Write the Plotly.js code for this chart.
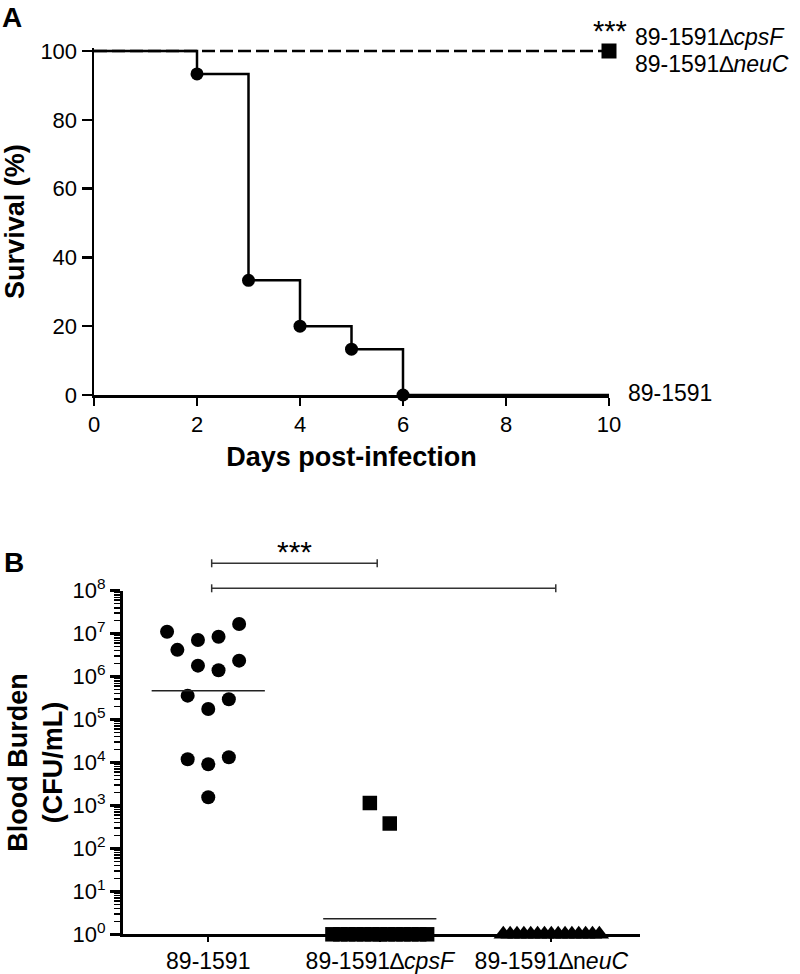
<!DOCTYPE html>
<html><head><meta charset="utf-8">
<script src="https://cdn.plot.ly/plotly-3.0.1.min.js"></script>
<style>html,body{margin:0;padding:0;background:#fff}#chart{width:800px;height:974px}</style>
</head><body><div id="chart"></div>
<script>
// ---------- Panel A: survival ----------
const days = [0, 2, 3, 4, 5, 6, 10];
const survivalWT = [100, 93.33, 33.33, 20, 13.33, 0, 0];
const mutantDays = [0, 10];
const survivalMutants = [100, 100];
const dayTicks = [0, 2, 4, 6, 8, 10];
const survivalTicks = [0, 20, 40, 60, 80, 100];
const labelWT = '89-1591';
const labelCpsF = '89-1591\u2206<i>cpsF</i>';
const labelNeuC = '89-1591\u2206<i>neuC</i>';

// ---------- Panel B: blood burden ----------
const groups = ['89-1591', '89-1591\u2206<i>cpsF</i>', '89-1591\u2206n<i>euC</i>'];
const burdenWT = [1.11e7, 4.2e6, 7.1e6, 8.5e6, 1.68e7, 1.8e6, 1.4e6, 2.35e6, 3.6e5, 2.96e5, 1.76e5, 1.19e4, 9.1e3, 1.32e4, 1.55e3];
const burdenCpsF = [1140, 380, 1, 1, 1, 1, 1, 1, 1, 1, 1, 1, 1, 1, 1];
const burdenNeuC = [1, 1, 1, 1, 1, 1, 1, 1, 1, 1, 1, 1, 1, 1, 1];
const medians = [4.7e5, 2.3];
const burdenTickVals = [1, 10, 100, 1e3, 1e4, 1e5, 1e6, 1e7, 1e8];
const burdenTickText = burdenTickVals.map((v, i) => '10<sup>' + i + '</sup>');

// ---------- layout helpers (positions, not data) ----------
const W = 800, H = 974;
const px = v => v / W, py = v => 1 - v / H;
const swarmWT = [-4, -3, -1, 1, 3, -1, 1, 3, -2, 2, 0, -2, 0, 2, 0].map(k => k * 0.06);
const swarmCpsF = [-1.26, 1.26].concat([-6,-5,-4,-3,-2,-1,0,1,2,3,4,5,6]).map(k => k * 0.046);
const swarmNeuC = [-7,-6,-5,-4,-3,-2,-1,0,1,2,3,4,5,6,7].map(k => k * 0.04);
const FONT = 'Liberation Sans, Arial, Helvetica, sans-serif';
const BLACK = '#000';

const traces = [
  // Panel A
  { x: mutantDays, y: survivalMutants, xaxis: 'x', yaxis: 'y', mode: 'lines', line: { color: BLACK, width: 2.3, dash: '13px,5px' }, hoverinfo: 'skip', cliponaxis: false },
  { x: days, y: survivalWT, xaxis: 'x', yaxis: 'y', mode: 'lines', line: { color: BLACK, width: 2.5, shape: 'hv' }, cliponaxis: false },
  { x: days.slice(1, 6), y: survivalWT.slice(1, 6), xaxis: 'x', yaxis: 'y', mode: 'markers', marker: { symbol: 'circle', size: 13, color: BLACK }, cliponaxis: false },
  { x: mutantDays.slice(-1), y: survivalMutants.slice(-1), xaxis: 'x', yaxis: 'y', mode: 'markers', marker: { symbol: 'square', size: 15, color: BLACK }, cliponaxis: false },
  // Panel B
  { x: burdenWT.map((v, i) => 0 + swarmWT[i]), y: burdenWT, xaxis: 'x2', yaxis: 'y2', mode: 'markers', marker: { symbol: 'circle', size: 14, color: BLACK }, cliponaxis: false },
  { x: burdenCpsF.map((v, i) => 1 + swarmCpsF[i]), y: burdenCpsF, xaxis: 'x2', yaxis: 'y2', mode: 'markers', marker: { symbol: 'square', size: 14.5, color: BLACK }, cliponaxis: false },
  { x: burdenNeuC.map((v, i) => 2 + swarmNeuC[i]), y: burdenNeuC, xaxis: 'x2', yaxis: 'y2', mode: 'markers', marker: { symbol: 'triangle-up', size: 17, color: BLACK }, cliponaxis: false },
  { x: [-0.33, 0.33], y: [medians[0], medians[0]], xaxis: 'x2', yaxis: 'y2', mode: 'lines', line: { color: '#222', width: 1.5 } },
  { x: [0.67, 1.33], y: [medians[1], medians[1]], xaxis: 'x2', yaxis: 'y2', mode: 'lines', line: { color: '#222', width: 1.5 } }
];

const minorVals = [];
for (let e = 0; e < 8; e++) for (let d = 2; d <= 9; d++) minorVals.push(d * Math.pow(10, e));

const tickFont = { family: FONT, size: 22, color: BLACK };
const labelFont = { family: FONT, size: 23, color: BLACK };
const titleFont = { family: FONT, size: 27, color: BLACK };

const bracketColor = '#333';
function bracket(x0, x1, yPx) {
  return [
    { type: 'line', xref: 'x2', yref: 'paper', x0: x0, x1: x1, y0: py(yPx), y1: py(yPx), line: { color: bracketColor, width: 1.5 } },
    { type: 'line', xref: 'x2', yref: 'paper', x0: x0, x1: x0, y0: py(yPx - 4), y1: py(yPx + 4), line: { color: bracketColor, width: 1.5 } },
    { type: 'line', xref: 'x2', yref: 'paper', x0: x1, x1: x1, y0: py(yPx - 4), y1: py(yPx + 4), line: { color: bracketColor, width: 1.5 } }
  ];
}

// A: y=100 sits at 51px, y=0 at 395px; range topped slightly above 100 so the top line is not clipped
const yTopA = 100.8;
const yTopPx = 395 - (395 - 51) * yTopA / 100;

const layout = {
  width: W, height: H,
  margin: { l: 0, r: 0, t: 0, b: 0 },
  paper_bgcolor: '#fff', plot_bgcolor: 'rgba(0,0,0,0)',
  showlegend: false,
  font: { family: FONT, color: BLACK },
  xaxis: {
    domain: [px(94), px(609)], anchor: 'y', range: [0, 10],
    tickmode: 'array', tickvals: dayTicks, ticks: 'outside', ticklen: 8, tickwidth: 2.5, tickcolor: BLACK,
    showline: true, linewidth: 2.5, linecolor: BLACK, showgrid: false, zeroline: false, automargin: false,
    tickfont: tickFont,
    title: { text: '<b>Days post-infection</b>', font: titleFont, standoff: 11 }
  },
  yaxis: {
    domain: [py(395), py(yTopPx)], anchor: 'x', range: [0, yTopA],
    tickmode: 'array', tickvals: survivalTicks, ticks: 'outside', ticklen: 10, tickwidth: 2.5, tickcolor: BLACK,
    showline: true, linewidth: 2.5, linecolor: BLACK, showgrid: false, zeroline: false, automargin: false,
    tickfont: tickFont,
    title: { text: '<b>Survival (%)</b>', font: titleFont, standoff: 9 }
  },
  xaxis2: {
    domain: [px(123), px(640)], anchor: 'y2', range: [-0.497, 2.517],
    tickmode: 'array', tickvals: [0, 1, 2], ticktext: groups, ticks: 'outside', ticklen: 5, tickwidth: 2, tickcolor: BLACK,
    showline: true, linewidth: 2.5, linecolor: BLACK, showgrid: false, zeroline: false, automargin: false,
    tickfont: labelFont
  },
  yaxis2: {
    type: 'log', domain: [py(934.3), py(590.7)], anchor: 'x2', range: [0, 8],
    tickmode: 'array', tickvals: burdenTickVals, ticktext: burdenTickText,
    ticks: 'outside', ticklen: 10, tickwidth: 2.5, tickcolor: BLACK,
    minor: { tickmode: 'array', tickvals: minorVals, ticks: 'outside', ticklen: 6, tickwidth: 1.5, tickcolor: BLACK, showgrid: false },
    showline: true, linewidth: 3, linecolor: BLACK, showgrid: false, zeroline: false, automargin: false,
    tickfont: tickFont,
    title: { text: '<b>Blood Burden</b><br><b>(CFU/mL)</b>', font: titleFont, standoff: 3 }
  },
  shapes: [].concat(bracket(0.02, 0.985, 563.3), bracket(0.02, 2.026, 588.3)),
  annotations: [
    { text: '<b>A</b>', xref: 'paper', yref: 'paper', x: 0, y: 1, xanchor: 'left', yanchor: 'top', showarrow: false, font: { family: FONT, size: 28, color: BLACK } },
    { text: '<b>B</b>', xref: 'paper', yref: 'paper', x: px(2), y: py(562), xanchor: 'left', yanchor: 'middle', showarrow: false, font: { family: FONT, size: 28, color: BLACK } },
    { text: labelWT, xref: 'x', yref: 'y', x: days[days.length - 1], y: survivalWT[survivalWT.length - 1], xanchor: 'left', yanchor: 'middle', xshift: 17, yshift: 2, showarrow: false, font: labelFont },
    { text: labelCpsF, xref: 'x', yref: 'y', x: mutantDays[1], y: survivalMutants[1], xanchor: 'left', yanchor: 'middle', xshift: 24, yshift: 14, showarrow: false, font: labelFont },
    { text: labelNeuC, xref: 'x', yref: 'y', x: mutantDays[1], y: survivalMutants[1], xanchor: 'left', yanchor: 'middle', xshift: 24, yshift: -13, showarrow: false, font: labelFont },
    { text: '***', xref: 'x', yref: 'y', x: mutantDays[1], y: survivalMutants[1], xanchor: 'center', yanchor: 'middle', xshift: 1, yshift: 20, showarrow: false, font: { family: FONT, size: 29, color: BLACK } },
    { text: '***', xref: 'x2', yref: 'paper', x: 0.5, y: py(551), xanchor: 'center', yanchor: 'middle', showarrow: false, font: { family: FONT, size: 30, color: BLACK } }
  ]
};

Plotly.newPlot('chart', traces, layout, { displayModeBar: false, staticPlot: true });
</script>
</body></html>
